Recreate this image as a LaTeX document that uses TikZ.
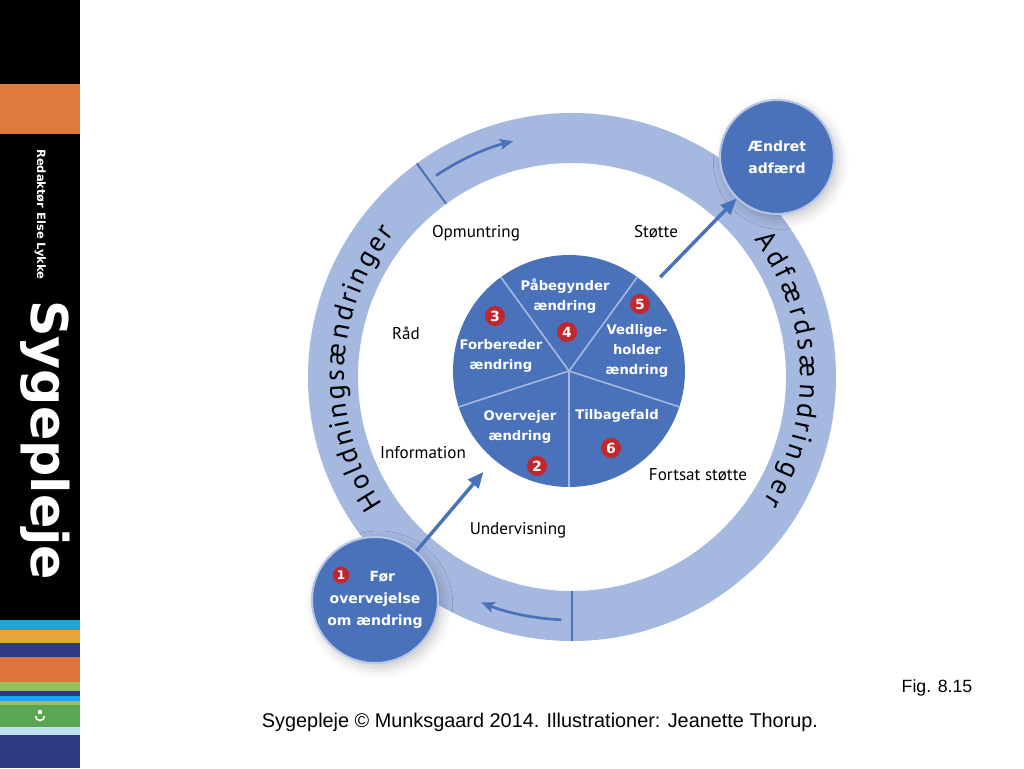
\documentclass[tikz,border=0pt]{standalone}
\usepackage{fontspec}
\setmainfont{PT Sans}
\newfontfamily\verdfont{DejaVu Sans}
\newfontfamily\arialfont{Liberation Sans}
\usetikzlibrary{arrows.meta,decorations.text,shadows.blur}
\definecolor{ringblue}{HTML}{A5B8E0}
\definecolor{pieblue}{HTML}{4A72BA}
\definecolor{badgered}{HTML}{C1272D}
\definecolor{sideorange}{HTML}{DD7B3E}
\definecolor{stripcyan}{HTML}{1AA8DE}
\definecolor{stripyellow}{HTML}{E8A43C}
\definecolor{stripnavy}{HTML}{2B3A82}
\definecolor{striporange}{HTML}{DE743A}
\definecolor{striplime}{HTML}{97BF5C}
\definecolor{stripgreen}{HTML}{5CA553}
\definecolor{striplight}{HTML}{BEE2F6}

\begin{document}
\begin{tikzpicture}[x=0.75pt, y=0.75pt,
  stage/.style={text=white, font=\verdfont\bfseries\fontsize{9.9}{15}\selectfont, align=center, inner sep=0pt},
  badge/.style={circle, fill=badgered, text=white, inner sep=0pt, minimum size=15pt, font=\verdfont\bfseries\fontsize{10.5}{10}\selectfont},
  helper/.style={font=\fontsize{12.8}{13}\selectfont, inner sep=0pt},
  goal/.style={circle, fill=pieblue, draw=ringblue!80, line width=1.5pt, inner sep=0pt, text=white, align=center,
    font=\verdfont\bfseries\fontsize{10.5}{16.5}\selectfont,
    blur shadow={shadow xshift=3pt, shadow yshift=-3.5pt, shadow blur radius=8pt, shadow opacity=22}},
  flow/.style={-{Triangle[length=12pt,width=10pt]}, line width=2.6pt, draw=pieblue},
  ringflow/.style={-{Stealth[length=10pt,width=8pt,inset=2pt]}, line width=2pt, draw=pieblue},
  divider/.style={line width=1.5pt, draw=pieblue},
  ringtext/.style={decorate, decoration={text effects along path, text={#1},
    text effects/.cd, text along path, fit text to path,
    every character/.style={font=\fontsize{21}{22}\selectfont}}}]
  \useasboundingbox (0,0) rectangle (1024,768);
  % sidebar
  \fill[black] (0,0) rectangle (80,768);
  \fill[sideorange] (0,634) rectangle (80,684);
  \foreach \ya/\yb/\col in {620/630/stripcyan, 630/643/stripyellow, 643/657/stripnavy, 657/682/striporange,
      682/691/striplime, 691/696/stripnavy, 696/701/stripcyan, 701/705/striplime, 705/727/stripgreen,
      727/735/striplight, 735/768/stripnavy}
    \fill[\col] (0,{768-\yb}) rectangle (80,{768-\ya});
  \fill[white] (40,56) circle[radius=2.2];
  \draw[white, line width=1.2pt] (35.5,52) arc[start angle=180, end angle=360, radius=4.5];
  \node[rotate=-90, anchor=base west, inner sep=0pt, text=white, font=\verdfont\bfseries\fontsize{8.6}{9}\selectfont] (editor) at (37,619) {Redaktør Else Lykke};
  \node[rotate=-90, anchor=base west, inner sep=0pt, text=white, font=\verdfont\bfseries\fontsize{38}{38}\selectfont] (title) at (31,468) {Sygepleje};

  % ring
  \coordinate (ring) at (572,391);
  \draw[ringblue, line width=37.5pt] (ring) circle[radius=239];
  \path[ringtext=Holdningsændringer] ([shift={(214:228)}]ring) arc[start angle=214, end angle=141, radius=228];
  \path[ringtext=Adfærdsændringer] ([shift={(37:228)}]ring) arc[start angle=37, end angle=-33, radius=228];
  \draw[divider] ([shift={(126:214)}]ring) -- ([shift={(126:264)}]ring);
  \draw[divider] ([shift={(270:214)}]ring) -- ([shift={(270:264)}]ring);
  \draw[ringflow] ([shift={(124:243)}]ring) arc[start angle=124, end angle=104, radius=243];
  \draw[ringflow] ([shift={(267.5:243)}]ring) arc[start angle=267.5, end angle=248, radius=243];

  % stages
  \node[circle, fill=pieblue, minimum size=174pt, inner sep=0pt] (pie) at (569,397) {};
  \foreach \a in {-18,54,126,198,270}
    \draw[ringblue, line width=1.2pt] (pie.center) -- ++(\a:116);
  \node[stage] (start) at (565,472) {Påbegynder\\ændring};
  \node[stage] (prepare) at (501,412) {Forbereder\\ændring};
  \node[stage] (keep) at (637,417) {Vedlige-\\holder\\ændring};
  \node[stage] (consider) at (520,341) {Overvejer\\ændring};
  \node[stage] (relapse) at (617,352) {Tilbagefald};
  \node[badge] (b2) at (537,302) {2};
  \node[badge] (b3) at (495,452) {3};
  \node[badge] (b4) at (567,436) {4};
  \node[badge] (b5) at (640,464) {5};
  \node[badge] (b6) at (611,320) {6};

  % support
  \node[helper] (encourage) at (476,535) {Opmuntring};
  \node[helper] (support) at (656,536) {Støtte};
  \node[helper] (advice) at (406,435) {Råd};
  \node[helper] (info) at (423,315) {Information};
  \node[helper] (more) at (698,293) {Fortsat støtte};
  \node[helper] (teach) at (518,238) {Undervisning};

  % before and after
  \node[goal, minimum size=85.5pt] (after) at (777,611) {Ændret\\adfærd};
  \node[goal, minimum size=94.5pt] (before) at (375,168) {\phantom{1} Før\\overvejelse\\om ændring};
  \node[badge, minimum size=12.5pt, font=\verdfont\bfseries\fontsize{9}{9}\selectfont] (b1) at (341,193) {1};
  \draw[flow, shorten >=12pt] (before) -- (pie);
  \draw[flow, shorten <=11pt] (pie) -- (after);

  % caption
  \node[font=\arialfont\fontsize{13.3}{14}\selectfont, inner sep=0pt] (fig) at (937,80) {Fig. 8.15};
  \node[font=\arialfont\fontsize{14.9}{15}\selectfont, inner sep=0pt] (credit) at (540,46) {Sygepleje © Munksgaard 2014. Illustrationer: Jeanette Thorup.};
\end{tikzpicture}
\end{document}
